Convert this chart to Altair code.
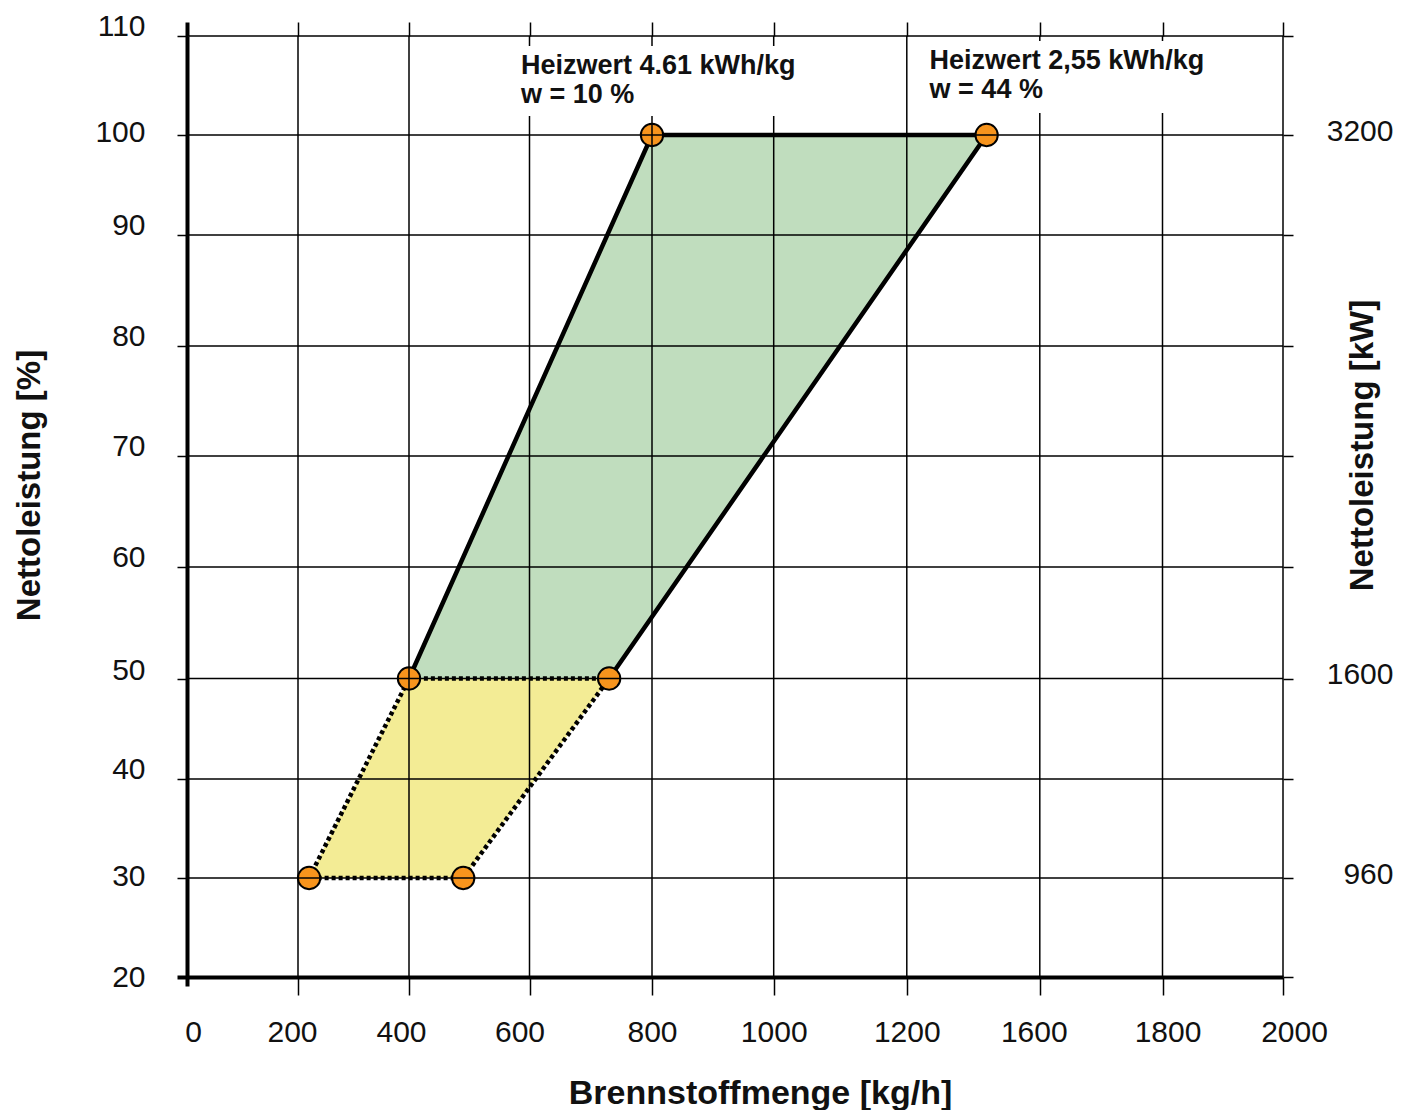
import altair as alt
import pandas as pd

# ---------------- data ----------------
x_ticks = [0, 200, 400, 600, 800, 1000, 1200, 1600, 1800, 2000]   # Brennstoffmenge [kg/h] (as labelled)
y_ticks = [20, 30, 40, 50, 60, 70, 80, 90, 100, 110]             # Nettoleistung [%]
kw_loads = [100, 50, 30]                                          # % load with kW label
kw_values = [3200, 1600, 960]                                     # Nettoleistung [kW]

# green field (50 - 100 %)
green_load = [50, 100]
green_left = [400, 800]      # Heizwert 4.61 kWh/kg, w = 10 %
green_right = [730, 1440]    # Heizwert 2,55 kWh/kg, w = 44 %

# yellow field (30 - 50 %)
yellow_load = [30, 50]
yellow_left = [220, 400]
yellow_right = [490, 730]

heizwert = ["Heizwert 4.61 kWh/kg", "Heizwert 2,55 kWh/kg"]
wassergehalt = ["w = 10 %", "w = 44 %"]

# ---------------- layout / style ----------------
W, H = 1096, 941
X_PX = [0, 111, 222, 342.5, 465, 586.7, 719.8, 852.8, 975.5, 1096]   # hand-drawn grid spacing
Y_PX = [941, 842, 743, 642.5, 531, 420, 310, 199, 99, 0]
FONT = "Liberation Sans"
TXT = "#111111"
GREEN = "#c0ddbe"
YELLOW = "#f3ec95"
ORANGE = "#f7941d"

xs = alt.Scale(domain=x_ticks, range=X_PX, nice=False, zero=False)
ys = alt.Scale(domain=y_ticks, range=Y_PX, nice=False, zero=False)

green_df = pd.DataFrame({"load": green_load, "left": green_left, "right": green_right})
yellow_df = pd.DataFrame({"load": yellow_load, "left": yellow_left, "right": yellow_right})

green_path = pd.DataFrame({
    "x": [green_left[0], green_left[1], green_right[1], green_right[0]],
    "y": [green_load[0], green_load[1], green_load[1], green_load[0]],
    "i": [0, 1, 2, 3],
})
yellow_path = pd.DataFrame({
    "x": [yellow_left[0], yellow_left[1], yellow_right[1], yellow_right[0], yellow_left[0]],
    "y": [yellow_load[0], yellow_load[1], yellow_load[1], yellow_load[0], yellow_load[0]],
    "i": [0, 1, 2, 3, 4],
})
points = pd.DataFrame({
    "x": yellow_left[:1] + yellow_right[:1] + green_left + green_right,
    "y": yellow_load[:1] + yellow_load[:1] + green_load + green_load,
})
xgrid = pd.DataFrame({"t": x_ticks})
ygrid = pd.DataFrame({"t": y_ticks})
ann = pd.DataFrame({"x": [green_left[1], green_right[1]], "y": [green_load[1], green_load[1]]})

kw_expr = " : ".join(
    [f"datum.value === {l} ? '{v}'" for l, v in zip(kw_loads, kw_values)]
) + " : ''"


def cond(default, pairs):
    return {
        "condition": [{"test": f"datum.value === {k}", "value": v} for k, v in pairs],
        "value": default,
    }


bottom_axis = alt.Axis(
    orient="bottom", values=x_ticks, grid=False, format="d", labelFlush=False,
    domainColor="black", domainWidth=4,
    tickColor="black",
    tickSize=cond(18, [(0, 9)]),
    tickWidth=cond(1.5, [(0, 4)]),
    labelFont=FONT, labelFontSize=30, labelColor=TXT,
    labelPadding=cond(22, [(0, 31)]),
    labelOffset=cond(0, [(0, 6), (200, -6), (400, -8), (600, -10), (1600, -6), (1800, 5), (2000, 11)]),
    title="Brennstoffmenge [kg/h]", titleFont=FONT, titleFontSize=34,
    titleFontWeight="bold", titleColor=TXT, titleX=573, titleY=126,
    titleAlign="center", titleBaseline="alphabetic",
)
left_axis = alt.Axis(
    orient="left", values=y_ticks, grid=False, format="d", labelFlush=False,
    domainColor="black", domainWidth=4,
    tickColor="black", tickSize=10,
    tickWidth=cond(1.5, [(20, 4)]),
    labelFont=FONT, labelFontSize=30, labelColor=TXT, labelPadding=32,
    labelBaseline="middle",
    labelOffset=cond(-10, [(100, -3), (50, -8), (30, -2), (20, 0)]),
    title="Nettoleistung [%]", titleFont=FONT, titleFontSize=33,
    titleFontWeight="bold", titleColor=TXT, titleAngle=270,
    titleX=-148, titleY=449, titleAlign="center", titleBaseline="alphabetic",
)
top_axis = alt.Axis(
    orient="top", values=x_ticks, grid=False, domain=False, labels=False, title=None,
    tickColor="black", tickSize=14,
    tickWidth=cond(1.5, [(0, 4)]),
)
right_axis = alt.Axis(
    orient="right", values=y_ticks, grid=False, domain=False, labelFlush=False,
    tickColor="black", tickSize=10, tickWidth=1.5,
    labelExpr=kw_expr, labelFont=FONT, labelFontSize=30, labelColor=TXT,
    labelAlign="right", labelPadding=100, labelBaseline="middle", labelOffset=-4,
    title="Nettoleistung [kW]", titleFont=FONT, titleFontSize=33,
    titleFontWeight="bold", titleColor=TXT, titleAngle=270,
    titleX=89, titleY=409, titleAlign="center", titleBaseline="alphabetic",
)

green_fill = alt.Chart(green_df).mark_area(orient="horizontal", color=GREEN, opacity=1).encode(
    y=alt.Y("load:Q", scale=ys, axis=left_axis),
    x=alt.X("left:Q", scale=xs, axis=bottom_axis),
    x2="right:Q",
)
yellow_fill = alt.Chart(yellow_df).mark_area(orient="horizontal", color=YELLOW, opacity=1).encode(
    y=alt.Y("load:Q", scale=ys, axis=None),
    x=alt.X("left:Q", scale=xs, axis=None),
    x2="right:Q",
)
vgrid = alt.Chart(xgrid).mark_rule(color="black", strokeWidth=1.5).encode(
    x=alt.X("t:Q", scale=xs, axis=top_axis),
)
hgrid = alt.Chart(ygrid).mark_rule(color="black", strokeWidth=1.5).encode(
    y=alt.Y("t:Q", scale=ys, axis=right_axis),
)
green_line = alt.Chart(green_path).mark_line(color="black", strokeWidth=4.5, strokeJoin="round").encode(
    x=alt.X("x:Q", scale=xs, axis=None),
    y=alt.Y("y:Q", scale=ys, axis=None),
    order="i:O",
)
yellow_line = alt.Chart(yellow_path).mark_line(color="black", strokeWidth=4.5, strokeDash=[4, 3]).encode(
    x=alt.X("x:Q", scale=xs, axis=None),
    y=alt.Y("y:Q", scale=ys, axis=None),
    order="i:O",
)
dots = alt.Chart(points).mark_point(
    shape="circle", filled=True, fill=ORANGE, stroke="black", strokeWidth=2,
    size=500, opacity=1,
).encode(
    x=alt.X("x:Q", scale=xs, axis=None),
    y=alt.Y("y:Q", scale=ys, axis=None),
)


def annotation(idx, dx, dy, box):
    base = alt.Chart(ann.iloc[[idx]])
    x0, x1, y0, y1 = box
    backdrop = base.mark_rect(
        fill="white", xOffset=x0, x2Offset=x1, yOffset=y0, y2Offset=y1,
    ).encode(
        x=alt.X("x:Q", scale=xs, axis=None), x2="x:Q",
        y=alt.Y("y:Q", scale=ys, axis=None), y2="y:Q",
    )
    text = base.mark_text(
        align="left", baseline="alphabetic", dx=dx, dy=dy, font=FONT, fontSize=27,
        fontWeight="bold", lineHeight=29, color=TXT,
    ).encode(
        x=alt.X("x:Q", scale=xs, axis=None),
        y=alt.Y("y:Q", scale=ys, axis=None),
        text=alt.value([heizwert[idx], wassergehalt[idx]]),
    )
    return [backdrop, text]


layers = [yellow_fill, green_fill, yellow_line, green_line, dots, vgrid, hgrid]
layers += annotation(0, -131, -61, (-140, 148, -89, -19))
layers += annotation(1, -57, -66, (-69, 228, -94, -22))

chart = alt.layer(*layers).resolve_axis(x="independent", y="independent").properties(
    width=W, height=H,
    autosize=alt.AutoSizeParams(type="none"),
    padding={"left": 179, "top": 28, "right": 111, "bottom": 133},
    background="white",
).configure_view(stroke=None)

chart.save("out.html", embed_options={"renderer": "svg", "actions": False})
